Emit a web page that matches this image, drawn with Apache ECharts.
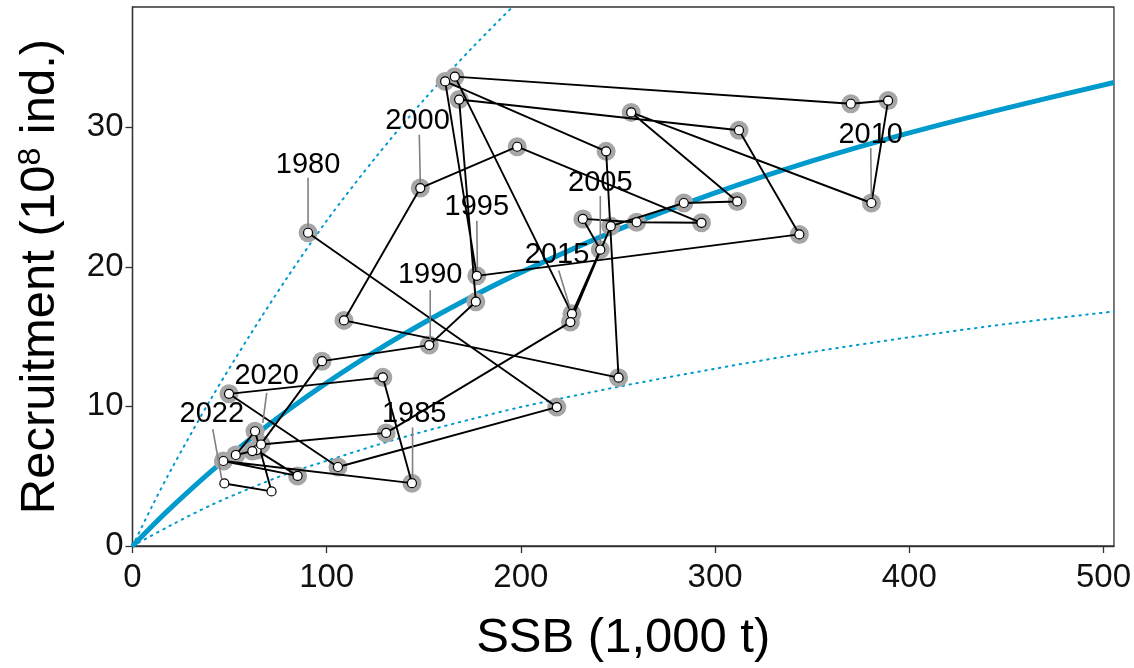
<!DOCTYPE html>
<html>
<head>
<meta charset="utf-8">
<script src="https://cdn.jsdelivr.net/npm/echarts@6/dist/echarts.min.js"></script>
<style>
  html, body { margin: 0; padding: 0; background: #fff; }
  #chart { width: 1134px; height: 668px; }
</style>
</head>
<body>
<div id="chart"></div>
<script>
// ---- data ----
const years = [1980,1981,1982,1983,1984,1985,1986,1987,1988,1989,
               1990,1991,1992,1993,1994,1995,1996,1997,1998,1999,
               2000,2001,2002,2003,2004,2005,2006,2007,2008,2009,
               2010,2011,2012,2013,2014,2015,2016,2017,2018,2019,
               2020,2021,2022];
const ssb = [90.4,218.5,105.8,49.7,128.9,143.9,46.8,85.0,63.9,97.6,
             152.8,176.8,168.2,312.3,343.4,177.3,161.0,243.9,250.3,108.9,
             148.2,198.1,293.0,259.6,231.9,240.9,226.3,166.0,369.9,389.1,
             380.5,256.8,311.4,283.9,246.3,225.5,130.6,66.2,61.7,53.2,
             63.1,71.6,47.3];
const recruit = [22.44,9.95,5.66,10.9,12.08,4.5,6.09,5.02,6.87,13.24,
                 14.39,17.5,31.98,29.78,22.32,19.35,33.28,28.27,12.06,16.16,
                 25.64,28.6,23.15,23.19,23.43,21.23,16.63,33.62,31.68,31.91,
                 24.57,31.06,24.68,24.57,22.91,16.04,8.1,7.27,6.8,6.52,
                 8.22,3.91,4.48];
const noHaloYears = [2021, 2022];
const labeledYears = [1980,1985,1990,1995,2000,2005,2010,2015,2020,2022];

// fitted curve (solid) and the two dotted bounds
const fitSSB = [0,10,20,40,60,80,100,125,150,175,200,250,300,350,400,450,505.4];
const fitRec = [0,1.42,2.77,5.29,7.6,9.73,11.69,13.94,15.99,17.87,19.6,22.66,25.29,27.58,29.59,31.37,33.2];
const upperSSB = [0,10,20,40,60,80,100,125,150,175,200,215];
const upperRec = [0,2.83,5.5,10.45,15.0,19.3,23.3,27.8,31.95,35.7,39.2,41.1];
const lowerSSB = [0,20,40,60,80,100,125,150,175,200,250,300,350,400,450,505.4];
const lowerRec = [0,1.5,2.9,4.1,5.2,6.1,7.2,8.2,9.1,9.95,11.4,12.7,13.9,14.95,15.9,16.8];

const xTicks = [0,100,200,300,400,500];
const yTicks = [0,10,20,30];

// ---- presentation ----
const FONT = "'Liberation Sans', Arial, Helvetica, sans-serif";
const BLUE = '#009ACD';
const labelPos = {
  1980: {t:[0,-68],    a:[0,-55],     b:[0,-6]},
  1985: {t:[2.3,-69],  a:[0.6,-55.7], b:[0.6,-5]},
  1990: {t:[1,-70],    a:[1,-55],     b:[1,-5]},
  1995: {t:[0,-68.4],  a:[0,-55],     b:[0.6,-5]},
  2000: {t:[-2.7,-66.6], a:[-1,-53.3], b:[0,-5]},
  2005: {t:[0,-67],    a:[0,-53.6],   b:[0,-4]},
  2010: {t:[-0.7,-68.3], a:[-0.7,-55], b:[0,-5]},
  2015: {t:[-13.4,-66.6], a:[-11.7,-51.6], b:[0,-13]},
  2020: {t:[11.7,-55], a:[11.7,-38.3], b:[7.7,-8.3]},
  2022: {t:[-12.6,-69.3], a:[-11.6,-54.3], b:[-2.6,-4.3]}
};

const pts = years.map((y, i) => [ssb[i], recruit[i], y]);
const zip = (xs, ys) => xs.map((x, i) => [x, ys[i]]);

const chart = echarts.init(document.getElementById('chart'), null, {renderer: 'canvas'});
const axisCommon = {
  type: 'value',
  axisLine: {show: true, onZero: false, lineStyle: {color: '#333', width: 1.3}},
  axisTick: {show: true, length: 7, lineStyle: {color: '#333', width: 1.3}},
  splitLine: {show: false},
  axisLabel: {fontSize: 33, color: '#111', fontFamily: FONT},
  nameLocation: 'middle',
  nameTextStyle: {fontSize: 49, color: '#000', fontFamily: FONT}
};

chart.setOption({
  animation: false,
  backgroundColor: '#fff',
  grid: {left: 132.5, top: 7, width: 985.5, height: 542.5, show: true,
         borderColor: '#333', borderWidth: 1.3, backgroundColor: 'transparent'},
  xAxis: Object.assign({}, axisCommon, {
    min: 0, max: 505.4,
    axisTick: Object.assign({}, axisCommon.axisTick, {customValues: xTicks}),
    axisLabel: Object.assign({}, axisCommon.axisLabel, {customValues: xTicks, margin: 15}),
    name: 'SSB (1,000 t)', nameGap: 68
  }),
  yAxis: Object.assign({}, axisCommon, {
    min: 0, max: 38.61,
    axisTick: Object.assign({}, axisCommon.axisTick, {customValues: yTicks}),
    axisLabel: Object.assign({}, axisCommon.axisLabel, {customValues: yTicks, margin: 9}),
    name: 'Recruitment (10{s|8} ind.)', nameGap: 68,
    nameTextStyle: {fontSize: 49, color: '#000', fontFamily: FONT,
      rich: {s: {fontSize: 32, fontFamily: FONT, color: '#000', verticalAlign: 'top', lineHeight: 32}}}
  }),
  series: [
    {type: 'line', data: zip(upperSSB, upperRec), smooth: 0.3, showSymbol: false, z: 1,
     lineStyle: {color: BLUE, width: 2, type: [1.5, 5.5], cap: 'round'}},
    {type: 'line', data: zip(lowerSSB, lowerRec), smooth: 0.3, showSymbol: false, z: 1,
     lineStyle: {color: BLUE, width: 2, type: [1.5, 5.5], cap: 'round'}},
    {type: 'line', data: zip(fitSSB, fitRec), smooth: 0.3, showSymbol: false, z: 2,
     lineStyle: {color: BLUE, width: 5}},
    {type: 'scatter', data: pts.filter(p => noHaloYears.indexOf(p[2]) < 0), symbolSize: 19, z: 3,
     itemStyle: {color: '#a6a6a6', opacity: 1}, silent: true},
    {type: 'line', data: pts, showSymbol: false, z: 4,
     lineStyle: {color: '#000', width: 1.9}},
    {type: 'scatter', data: pts, symbolSize: 9, z: 5,
     itemStyle: {color: '#fff', borderColor: '#000', borderWidth: 1.2, opacity: 1}},
    {type: 'custom', z: 6,
     data: pts.filter(p => labeledYears.indexOf(p[2]) >= 0),
     renderItem: function (params, api) {
       const yr = api.value(2);
       const p = api.coord([api.value(0), api.value(1)]);
       const o = labelPos[yr];
       return {type: 'group', children: [
         {type: 'line', shape: {x1: p[0]+o.a[0], y1: p[1]+o.a[1], x2: p[0]+o.b[0], y2: p[1]+o.b[1]},
          style: {stroke: '#808080', lineWidth: 1.6}},
         {type: 'text', x: p[0]+o.t[0], y: p[1]+o.t[1],
          style: {text: String(yr), fill: '#000', font: '29px ' + FONT, align: 'center', verticalAlign: 'middle'}}
       ]};
     }}
  ]
});
</script>
</body>
</html>
